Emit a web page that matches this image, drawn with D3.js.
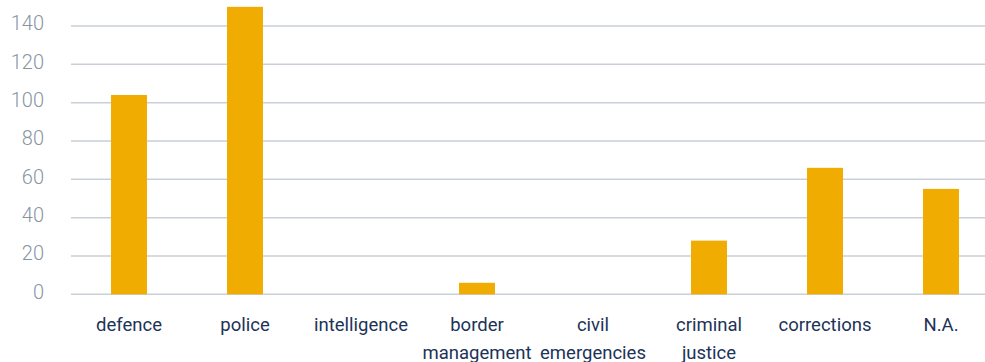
<!DOCTYPE html>
<html>
<head>
<meta charset="utf-8">
<script src="https://cdn.jsdelivr.net/npm/d3@7"></script>
<style>
  html, body { margin: 0; padding: 0; background: #ffffff; }
  svg { display: block; }
</style>
</head>
<body>
<svg id="chart" width="985" height="362"></svg>
<script>
// Categories (multi-line labels split on "\n") and their counts
const categories = ["defence", "police", "intelligence", "border\nmanagement", "civil\nemergencies", "criminal\njustice", "corrections", "N.A."];
const values = [104, 150, 0, 6, 0, 28, 66, 55];
const yTicks = [0, 20, 40, 60, 80, 100, 120, 140];

const svg = d3.select("#chart");
const fontFamily = "Roboto, 'Noto Sans', sans-serif";

const x = d3.scaleBand()
  .domain(categories)
  .range([71, 999])
  .paddingInner(0.69)
  .paddingOuter(0.345);

const y = d3.scaleLinear()
  .domain([0, 140])
  .range([294.3, 26]);

// Horizontal gridlines
svg.append("g")
  .selectAll("line")
  .data(yTicks)
  .join("line")
  .attr("x1", 71)
  .attr("x2", 985)
  .attr("y1", d => y(d))
  .attr("y2", d => y(d))
  .attr("stroke", "#c9cfd7")
  .attr("stroke-width", 1.5);

// Y axis labels
const yAxis = d3.axisLeft(y).tickValues(yTicks).tickSize(0).tickPadding(0);
const gy = svg.append("g").attr("transform", "translate(44,-2.5)").call(yAxis);
gy.select(".domain").remove();
gy.selectAll("text")
  .attr("fill", "#8795a3")
  .attr("font-size", 20)
  .attr("font-weight", 300)
  .attr("font-family", fontFamily);

// Bars
svg.append("g")
  .selectAll("rect")
  .data(values)
  .join("rect")
  .attr("x", (d, i) => x(categories[i]))
  .attr("y", d => y(d))
  .attr("width", x.bandwidth())
  .attr("height", d => y(0) - y(d))
  .attr("fill", "#f0ac00");

// Category labels
const gx = svg.append("g");
categories.forEach(c => {
  const t = gx.append("text")
    .attr("x", x(c) + x.bandwidth() / 2)
    .attr("y", 331)
    .attr("text-anchor", "middle")
    .attr("fill", "#1c3357")
    .attr("font-size", 18.5)
    .attr("font-family", fontFamily);
  c.split("\n").forEach((line, i) => {
    t.append("tspan")
      .attr("x", x(c) + x.bandwidth() / 2)
      .attr("dy", i === 0 ? 0 : 28)
      .text(line);
  });
});
</script>
</body>
</html>
